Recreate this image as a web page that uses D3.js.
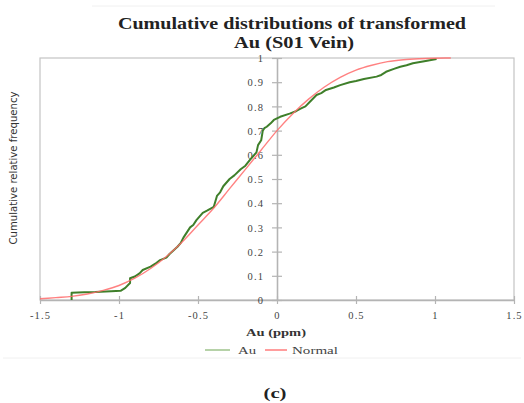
<!DOCTYPE html>
<html>
<head>
<meta charset="utf-8">
<script src="https://cdn.jsdelivr.net/npm/d3@7"></script>
<style>
  html, body { margin: 0; padding: 0; background: #fff; }
  svg { display: block; }
  .tick text { font-family: "Liberation Serif", "Times New Roman", serif; font-size: 10.5px; fill: #444; letter-spacing: 1.1px; }
</style>
</head>
<body>
<div id="chart"></div>
<script>
// Tick values
const xTicks = [-1.5, -1, -0.5, 0, 0.5, 1, 1.5];
const yTicks = [0, 0.1, 0.2, 0.3, 0.4, 0.5, 0.6, 0.7, 0.8, 0.9, 1];

const auX = [-1.30, -1.30, -1.22, -1.15, -1.05, -0.99, -0.96, -0.93, -0.93, -0.90, -0.87, -0.85, -0.80,
  -0.77, -0.74, -0.70, -0.68, -0.63, -0.61, -0.59, -0.55, -0.53, -0.51, -0.47, -0.44, -0.40, -0.38,
  -0.36, -0.34, -0.30, -0.27, -0.23, -0.20, -0.17, -0.13, -0.12, -0.10, -0.09, -0.08, -0.065, -0.04,
  -0.02, 0.02, 0.08, 0.12, 0.146, 0.18, 0.21, 0.25, 0.28, 0.31, 0.36, 0.40, 0.46, 0.50, 0.55, 0.63,
  0.66, 0.69, 0.74, 0.78, 0.82, 0.86, 0.95, 1.01];
const auY = [0, 0.03, 0.032, 0.033, 0.036, 0.038, 0.05, 0.07, 0.09, 0.097, 0.11, 0.124, 0.138,
  0.15, 0.165, 0.175, 0.19, 0.22, 0.235, 0.26, 0.30, 0.31, 0.33, 0.36, 0.37, 0.385, 0.43,
  0.445, 0.47, 0.50, 0.515, 0.54, 0.555, 0.58, 0.61, 0.64, 0.66, 0.70, 0.71, 0.716, 0.73,
  0.744, 0.757, 0.77, 0.78, 0.79, 0.80, 0.82, 0.847, 0.855, 0.868, 0.878, 0.888, 0.90, 0.905, 0.913, 0.923,
  0.93, 0.943, 0.955, 0.964, 0.97, 0.978, 0.989, 0.996];

// Fitted normal cumulative curve
const normX = [-1.5, -1.4, -1.3, -1.2, -1.1, -1.0, -0.9, -0.8, -0.7, -0.6, -0.5, -0.4, -0.3, -0.2,
  -0.1, 0, 0.1, 0.2, 0.3, 0.4, 0.5, 0.6, 0.7, 0.8, 0.9, 1.0, 1.1];
const normY = [0.005, 0.01, 0.015, 0.025, 0.04, 0.06, 0.09, 0.13, 0.18, 0.24, 0.31, 0.38, 0.46, 0.54,
  0.62, 0.70, 0.77, 0.83, 0.88, 0.92, 0.95, 0.97, 0.985, 0.993, 0.997, 0.999, 1.0];

const W = 524, H = 403;
const plot = { left: 40, right: 514, top: 58, bottom: 300 };

const svg = d3.select('#chart').append('svg')
  .attr('width', W).attr('height', H)
  .attr('viewBox', `0 0 ${W} ${H}`);

// faint frame remnants of the chart area
svg.append('line').attr('x1', 92).attr('x2', 495).attr('y1', 6).attr('y2', 6)
  .attr('stroke', '#f0f0f0');
svg.append('line').attr('x1', 3).attr('x2', 521).attr('y1', 358).attr('y2', 358)
  .attr('stroke', '#f0f0f0');

const x = d3.scaleLinear().domain([-1.5, 1.5]).range([plot.left, plot.right]);
const y = d3.scaleLinear().domain([0, 1]).range([plot.bottom, plot.top]);

// plot border
svg.append('rect')
  .attr('x', plot.left).attr('y', plot.top)
  .attr('width', plot.right - plot.left).attr('height', plot.bottom - plot.top)
  .attr('fill', 'none').attr('stroke', '#c4c4c4').attr('stroke-width', 1.2);

// x axis along y = 0
const xAxis = svg.append('g')
  .attr('transform', `translate(0,${y(0)})`)
  .call(d3.axisBottom(x).tickValues(xTicks).tickFormat(d => String(d)).tickSizeOuter(0).tickSizeInner(4).tickPadding(8));
xAxis.select('.domain').attr('stroke', '#b4b4b4').attr('stroke-width', 1.6);
xAxis.selectAll('.tick line').attr('y1', -4).attr('y2', 4).attr('stroke', '#b4b4b4').attr('stroke-width', 1.2);

// y axis along x = 0
const yAxis = svg.append('g')
  .attr('transform', `translate(${x(0)},0)`)
  .call(d3.axisLeft(y).tickValues(yTicks).tickFormat(d => String(d)).tickSizeOuter(0).tickSizeInner(0).tickPadding(13));
yAxis.select('.domain').attr('stroke', '#b4b4b4').attr('stroke-width', 1.6);
yAxis.selectAll('.tick line').attr('x1', -5).attr('x2', 5).attr('stroke', '#b4b4b4').attr('stroke-width', 1.2);
yAxis.selectAll('.tick text').attr('dy', '0.35em');

// curves
const line = d3.line().x(d => x(d[0])).y(d => y(d[1]));

svg.append('path')
  .datum(auX.map((v, i) => [v, auY[i]]))
  .attr('d', line)
  .attr('fill', 'none')
  .attr('stroke', '#3f7f2a')
  .attr('stroke-width', 2)
  .attr('stroke-linejoin', 'round');

svg.append('path')
  .datum(normX.map((v, i) => [v, normY[i]]))
  .attr('d', line.curve(d3.curveMonotoneX))
  .attr('fill', 'none')
  .attr('stroke', '#ff6b6b')
  .attr('stroke-opacity', 0.85)
  .attr('stroke-width', 1.4);

// titles
const serif = '"Liberation Serif", "Times New Roman", serif';
svg.append('text')
  .attr('x', 292).attr('y', 29)
  .attr('text-anchor', 'middle')
  .attr('font-family', serif).attr('font-weight', 'bold').attr('font-size', 16)
  .attr('textLength', 348).attr('lengthAdjust', 'spacingAndGlyphs')
  .attr('fill', '#222')
  .text('Cumulative distributions of transformed');
svg.append('text')
  .attr('x', 294).attr('y', 48)
  .attr('text-anchor', 'middle')
  .attr('font-family', serif).attr('font-weight', 'bold').attr('font-size', 16)
  .attr('textLength', 120).attr('lengthAdjust', 'spacingAndGlyphs')
  .attr('fill', '#222')
  .text('Au (S01 Vein)');

svg.append('text')
  .attr('x', 276).attr('y', 336)
  .attr('text-anchor', 'middle')
  .attr('font-family', serif).attr('font-weight', 'bold').attr('font-size', 11)
  .attr('textLength', 60).attr('lengthAdjust', 'spacingAndGlyphs')
  .attr('fill', '#333')
  .text('Au (ppm)');

svg.append('text')
  .attr('transform', 'translate(17,168) rotate(-90)')
  .attr('text-anchor', 'middle')
  .attr('font-family', '"Liberation Sans Narrow", "Arial Narrow", "DejaVu Sans Condensed", sans-serif')
  .attr('font-size', 10)
  .attr('textLength', 153).attr('lengthAdjust', 'spacingAndGlyphs')
  .attr('fill', '#333')
  .text('Cumulative relative frequency');

// legend
const legend = [
  { name: 'Au', color: '#86b56f', x1: 205, x2: 230, tx: 238, w: 18 },
  { name: 'Normal', color: '#ff5c5c', x1: 265, x2: 287, tx: 292, w: 46 }
];
const lg = svg.append('g');
legend.forEach(d => {
  lg.append('line').attr('x1', d.x1).attr('x2', d.x2).attr('y1', 350).attr('y2', 350)
    .attr('stroke', d.color).attr('stroke-width', 1.2);
  lg.append('text').attr('x', d.tx).attr('y', 354)
    .attr('font-family', serif).attr('font-size', 11).attr('fill', '#444')
    .attr('textLength', d.w).attr('lengthAdjust', 'spacingAndGlyphs')
    .text(d.name);
});

svg.append('text')
  .attr('x', 275).attr('y', 398)
  .attr('text-anchor', 'middle')
  .attr('font-family', serif).attr('font-weight', 'bold').attr('font-size', 15)
  .attr('textLength', 23).attr('lengthAdjust', 'spacingAndGlyphs')
  .attr('fill', '#222')
  .text('(c)');
</script>
</body>
</html>
